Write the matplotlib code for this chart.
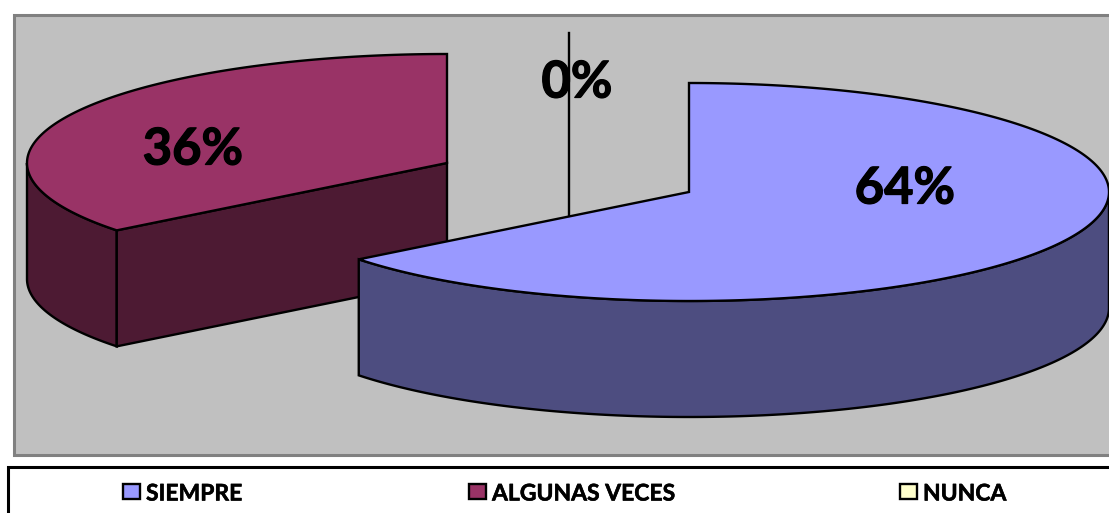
import numpy as np
import matplotlib
matplotlib.use("Agg")
import matplotlib.pyplot as plt
import matplotlib.patheffects as pe
from matplotlib.patches import Polygon, Rectangle

categories = ["SIEMPRE", "ALGUNAS VECES", "NUNCA"]
values = [64.4, 35.6, 0]
value_labels = ["64%", "36%", "0%"]
top_colors = ["#9999FF", "#993366", "#FFFFCC"]
side_colors = ["#4D4D80", "#4D1A33", "#808066"]

FONT = ["Lato", "DejaVu Sans"]
plt.rcParams['font.family'] = FONT
W, H = 1109, 513
fig = plt.figure(figsize=(W / 100, H / 100), dpi=100, facecolor="white")
ax = fig.add_axes([0, 0, 1, 1])
ax.set_xlim(0, W)
ax.set_ylim(H, 0)
ax.axis("off")

RX, RY, DEPTH = 420, 109, 116
centers = [(689, 192), (447, 163), (569, 142)]
label_pos = [(905, 189), (193, 150), (577, 83)]
LW = 1.7
BOLDER = [pe.withStroke(linewidth=0.9, foreground="black")]

ax.add_patch(Rectangle((14, 15), 1100, 440, fc="#C0C0C0", ec="#808080", lw=2.2, zorder=0))


def pt(c, a):
    return c[0] + RX * np.cos(a), c[1] - RY * np.sin(a)


def draw_slice(c, a0, a1, top, side, z):
    """Slice from angle a0 going clockwise to a1 (radians)."""
    a = np.linspace(a0, a1, 300)
    x, y = pt(c, a)
    # outer wall: visible where the rim faces the viewer (sin < 0)
    mask = np.sin(a) <= 0
    if mask.any():
        xs, ys = x[mask], y[mask]
        wall = np.r_[np.c_[xs, ys], np.c_[xs, ys + DEPTH][::-1]]
        ax.add_patch(Polygon(wall, closed=True, fc=side, ec="black", lw=LW, zorder=z))
    # cut wall at the slice's start, visible when it faces the viewer
    ex, ey = pt(c, a0)
    if ey >= c[1]:
        q = [(c[0], c[1]), (ex, ey), (ex, ey + DEPTH), (c[0], c[1] + DEPTH)]
        ax.add_patch(Polygon(q, closed=True, fc=side, ec="black", lw=LW, zorder=z))
    tp = np.r_[[[c[0], c[1]]], np.c_[x, y]]
    ax.add_patch(Polygon(tp, closed=True, fc=top, ec="black", lw=LW, zorder=z + 1))


# angles run clockwise from the top of the pie
fracs = np.array(values, dtype=float) / sum(values)
starts = np.pi / 2 - 2 * np.pi * np.r_[0, np.cumsum(fracs)[:-1]]
ends = starts - 2 * np.pi * fracs
zs = {2: 2, 1: 5, 0: 8}
for i in [2, 1, 0]:
    c = centers[i]
    if values[i] == 0:
        x0, y0 = pt(c, starts[i])
        ax.plot([x0, x0], [y0, c[1] + DEPTH], color="black", lw=LW, zorder=zs[i])
    else:
        draw_slice(c, starts[i], ends[i], top_colors[i], side_colors[i], zs[i])
    ax.text(*label_pos[i], value_labels[i], fontsize=36.5, fontweight="bold",
            family=FONT, ha="center", va="center", color="black", zorder=20,
            path_effects=BOLDER)

# legend
ax.add_patch(Rectangle((8, 467), 1110, 60, fc="white", ec="black", lw=2.2, zorder=1))
leg_x = [123, 469, 900]
for xx, cat, col in zip(leg_x, categories, top_colors):
    ax.add_patch(Rectangle((xx, 484), 17, 15, fc=col, ec="black", lw=1.7, zorder=2))
    ax.text(xx + 23, 494, cat, fontsize=16.5, fontweight="bold", family=FONT,
            ha="left", va="center", color="black", zorder=2,
            path_effects=[pe.withStroke(linewidth=0.4, foreground="black")])

fig.savefig("out.png", dpi=100)
